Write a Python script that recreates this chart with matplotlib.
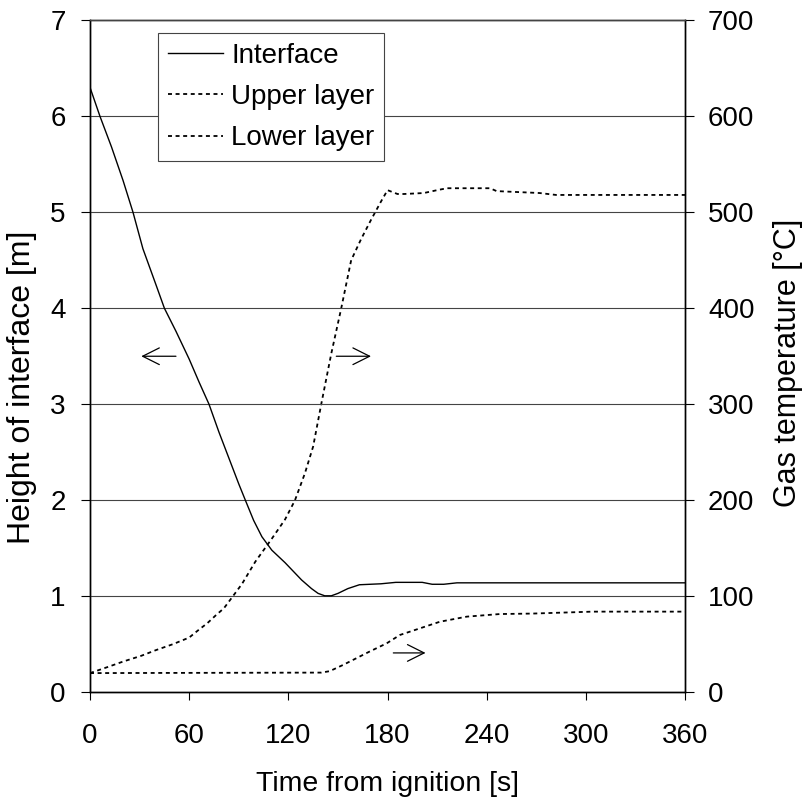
import matplotlib
matplotlib.use("Agg")
import matplotlib.pyplot as plt

# interface height [m]
time_iface = [0, 6, 13, 20, 26, 32, 40, 45, 52, 60, 66, 72, 78, 84, 90, 94, 99,
              104, 110, 118, 128, 134, 138, 142, 146, 150, 156, 163, 176, 185,
              201, 207, 214, 222, 360]
height_iface = [6.3, 6.0, 5.68, 5.33, 5.0, 4.62, 4.24, 4.0, 3.76, 3.47, 3.23,
                3.0, 2.71, 2.44, 2.17, 2.0, 1.79, 1.62, 1.48, 1.35, 1.17, 1.08,
                1.03, 1.005, 1.005, 1.03, 1.08, 1.12, 1.13, 1.145, 1.145,
                1.125, 1.125, 1.14, 1.14]

# upper layer gas temperature [degC]
time_upper = [0, 11, 20, 31, 40, 50, 60, 65, 71, 76, 81, 86, 92, 100, 110, 118,
              124, 130, 135, 140, 146, 152, 158, 164, 170, 176, 180, 186, 190,
              202, 210, 216, 242, 246, 272, 282, 360]
temp_upper = [20, 26.5, 32, 38, 44, 50, 57, 64, 72, 80, 87.5, 99, 113, 136, 160,
              180, 200, 228, 256, 301, 353, 400, 450, 472, 492, 511, 523, 519,
              519, 520, 523, 525, 525, 522, 520, 518, 518]

# lower layer gas temperature [degC]
time_lower = [0, 140, 145, 153, 159, 169, 179.5, 187.5, 199.6, 211.7, 228, 248,
              268, 304, 360]
temp_lower = [20, 20.5, 22, 28.4, 33.6, 42.3, 51, 59.7, 66.6, 73.5, 78.8, 81.5,
              82, 84, 84]

plt.rcParams["font.family"] = ["Liberation Sans", "DejaVu Sans"]
plt.rcParams["font.size"] = 20

fig = plt.figure(figsize=(8.03, 8.02), dpi=100)
ax = fig.add_axes([0.1121, 0.1368, 0.741, 0.838])
ax2 = ax.twinx()

ax.set_xlim(0, 360)
ax.set_ylim(0, 7)
ax2.set_ylim(0, 700)
ax.set_xticks(range(0, 361, 60))
ax.set_yticks(range(0, 8))
ax2.set_yticks(range(0, 701, 100))

for y in range(1, 7):
    ax.axhline(y, color="#444444", lw=0.8, zorder=0)

line_i, = ax.plot(time_iface, height_iface, color="black", lw=1.0,
                  label="Interface")
dash = (0, (2.2, 2.0))
line_u, = ax2.plot(time_upper, temp_upper, color="black", lw=1.3,
                   linestyle=dash, label="Upper layer")
line_l, = ax2.plot(time_lower, temp_lower, color="black", lw=1.3,
                   linestyle=dash, label="Lower layer")

# direction arrows pointing to the axis each curve belongs to
arrow = dict(arrowstyle="->,head_length=0.6,head_width=0.3", color="black",
             lw=0.9, shrinkA=0, shrinkB=0)
ax.annotate("", xy=(31, 3.5), xytext=(52, 3.5), arrowprops=arrow)
ax.annotate("", xy=(170, 3.5), xytext=(149, 3.5), arrowprops=arrow)
ax2.annotate("", xy=(203, 41), xytext=(183.5, 41), arrowprops=arrow)

for a in (ax, ax2):
    for s in a.spines.values():
        s.set_color("black")
        s.set_linewidth(1.0)
ax.spines["top"].set_color("#444444")

ax.tick_params(axis="y", direction="out", length=6.5, width=0.8, pad=11)
ax.tick_params(axis="x", direction="out", length=6, width=0.8, pad=16)
ax2.tick_params(axis="y", direction="out", length=6.5, width=0.8, pad=10)

ax.set_xlabel("Time from ignition [s]", fontsize=20.5, labelpad=16)
ax.set_ylabel("Height of interface [m]", fontsize=23)
ax2.set_ylabel("Gas temperature [°C]", fontsize=22)
ax.yaxis.set_label_coords(-0.089, 0.454)
ax2.yaxis.set_label_coords(1.148, 0.49)

leg = ax.legend(handles=[line_i, line_u, line_l], loc="upper left",
                bbox_to_anchor=(0.114, 0.981), borderaxespad=0,
                fancybox=False, framealpha=1, edgecolor="#444444",
                handlelength=2.0, handletextpad=0.3, labelspacing=0.55,
                borderpad=0.35, fontsize=20)
leg.get_frame().set_linewidth(0.8)
ax.set_zorder(ax2.get_zorder() + 1)
ax.patch.set_visible(False)

fig.savefig("out.png", dpi=100)
